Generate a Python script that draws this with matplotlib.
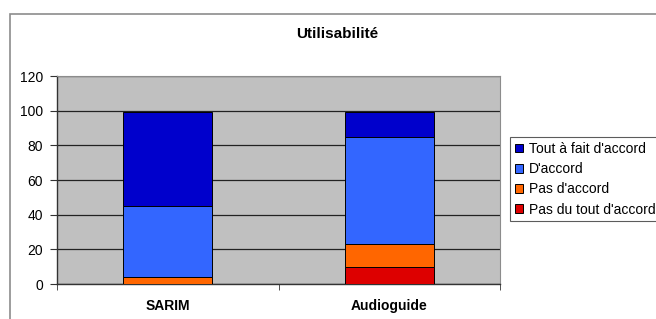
import numpy as np
import matplotlib.pyplot as plt
from matplotlib.patches import Rectangle

plt.rcParams['font.family'] = ['Liberation Sans', 'DejaVu Sans']

# data
categories = ['SARIM', 'Audioguide']
pas_du_tout = [0, 10]
pas_accord = [4, 13]
accord = [41, 62]
tout_a_fait = [54, 14]
yticks = [0, 20, 40, 60, 80, 100, 120]

series = [
    ("Pas du tout d'accord", pas_du_tout, '#DD0000'),
    ("Pas d'accord", pas_accord, '#FF6600'),
    ("D'accord", accord, '#3366FF'),
    ("Tout à fait d'accord", tout_a_fait, '#0000CC'),
]

fig = plt.figure(figsize=(6.56, 3.19), dpi=100)

# outer chart frame (cropped on right and bottom)
fig.patches.append(Rectangle((10 / 656, -0.2), 1.2, 1.2 - 14 / 319 + 0.0,
                             transform=fig.transFigure, fill=False,
                             edgecolor='#8c8c8c', linewidth=1.2))

ax = fig.add_axes([57 / 656, 1 - 284 / 319, 443 / 656, 208 / 319])
ax.set_facecolor('#C0C0C0')

x = np.arange(len(categories))
bottom = np.zeros(len(categories))
handles = []
for label, vals, col in series:
    b = ax.bar(x, vals, 0.4, bottom=bottom, color=col, edgecolor='black',
               linewidth=0.7, label=label, zorder=3)
    bottom += np.array(vals)
    handles.append(b)

ax.set_xlim(-0.5, 1.5)
ax.set_ylim(0, 120)
ax.set_yticks(yticks)
ax.yaxis.grid(True, color='#222222', linewidth=0.9, zorder=1)
ax.set_axisbelow(True)

ax.set_xticks(x)
ax.set_xticklabels(categories, fontsize=10, fontweight='bold')
ax.tick_params(axis='x', which='major', length=0, pad=11)
ax.set_xticks([-0.5, 0.5, 1.5], minor=True)
ax.tick_params(axis='x', which='minor', length=4, direction='out', color='#333333')
ax.tick_params(axis='y', length=5, direction='out', pad=5, labelsize=10, color='#333333')

for s in ['top', 'right']:
    ax.spines[s].set_color('#8c8c8c')
    ax.spines[s].set_linewidth(0.8)
for s in ['left', 'bottom']:
    ax.spines[s].set_color('#333333')
    ax.spines[s].set_linewidth(1.0)

fig.text(337 / 656, 1 - 34 / 319, 'Utilisabilité', ha='center', va='center',
         fontsize=11, fontweight='bold')

leg = fig.legend(handles[::-1], [s[0] for s in series][::-1],
                 loc='upper left', bbox_to_anchor=(510 / 656, 1 - 137 / 319),
                 fontsize=10, frameon=True, fancybox=False, shadow=False,
                 handlelength=0.6, handleheight=0.6, handletextpad=0.4,
                 labelspacing=0.45, borderpad=0.35, borderaxespad=0)
leg.get_frame().set_edgecolor('#333333')
leg.get_frame().set_linewidth(0.8)

fig.savefig('out.png', dpi=100)
